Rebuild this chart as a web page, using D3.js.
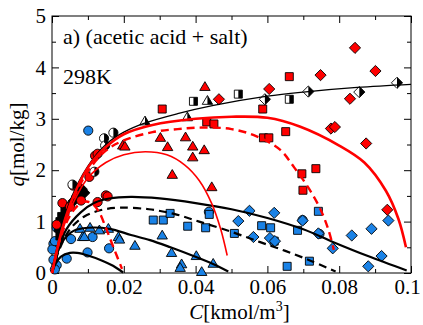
<!DOCTYPE html>
<html>
<head>
<meta charset="utf-8">
<script src="https://cdn.jsdelivr.net/npm/d3@7"></script>
<style>
  body { margin: 0; background: #fff; }
</style>
</head>
<body>
<div id="chart"></div>
<script>
// ---- data: [C kmol/m3, q mol/kg] ----
var redCircles = [[0.0120,2.28],[0.0127,2.32],[0.0104,1.87],[0.0059,1.70],[0.0029,1.36],[0.0081,1.41],
    [0.0127,1.38],[0.0150,1.51],[0.0155,1.49],[0.0013,0.94],[0.0050,1.29]];
var halfCircles = [[0.0171,2.73],[0.0145,2.62],[0.0148,2.48],[0.0118,1.97],[0.0057,1.72]];
var blueCircles = [[0.0101,2.77],[0.0013,0.88],[0.0004,0.57],[0.0001,0.46],[0.0004,0.26],[0.0013,0.15],
    [0.0008,0.07],[0.0041,0.28],[0.0053,0.66],[0.0099,0.40],[0.0113,0.70],[0.0159,0.48],[0.0008,0.62],
    [0.0437,1.19],[0.0698,1.03],[0.0745,0.76]];

var redTriangles = [[0.0426,3.62],[0.0197,2.48],[0.0203,2.46],[0.0302,2.63],[0.0322,2.45],[0.0372,2.64],
    [0.0392,2.46],[0.0424,2.39],[0.0392,2.25],[0.0335,1.91],[0.0445,1.67]];
var halfTriangles = [[0.0259,2.95],[0.0377,3.03],[0.0433,3.35]];
var blueTriangles = [[0.0078,0.86],[0.0085,0.70],[0.0090,0.70],[0.0106,0.88],[0.0132,0.83],[0.0157,0.86],
    [0.0185,0.70],[0.0188,0.65],[0.0231,0.53],[0.0307,0.73],[0.0333,0.39],[0.0361,0.17],[0.0357,0.10],
    [0.0402,0.33],[0.0417,0.02],[0.0449,0.18]];

var redSquares = [[0.0307,3.19],[0.0431,2.94],[0.0451,2.90],[0.0587,3.19],[0.0589,2.63],[0.0604,2.63],
    [0.0661,3.82],[0.0651,2.75],[0.0696,1.93],[0.0735,2.03],[0.0699,1.61]];
var halfSquares = [[0.0394,3.34],[0.0519,3.48],[0.0661,3.38]];
var blueSquares = [[0.0282,1.03],[0.0310,1.03],[0.0329,1.16],[0.0378,0.91],[0.0428,0.88],[0.0438,1.14],
    [0.0508,0.77],[0.0584,0.92],[0.0609,0.88],[0.0619,0.62],[0.0655,0.13],[0.0684,0.83],[0.0717,0.23],
    [0.0742,1.20]];

var redDiamonds = [[0.0844,4.38],[0.0748,3.85],[0.0901,3.93],[0.0830,3.39],[0.0465,3.38],[0.0605,3.58],
    [0.0777,2.81],[0.0788,2.84],[0.0875,2.52],[0.0934,1.23]];
var halfDiamonds = [[0.0593,3.38],[0.0714,3.53],[0.0856,3.52],[0.0961,3.70]];
var blueDiamonds = [[0.0519,1.01],[0.0550,1.21],[0.0561,0.70],[0.0619,1.17],[0.0607,0.68],[0.0621,0.62],
    [0.0698,1.02],[0.0742,0.77],[0.0782,0.48],[0.0835,0.73],[0.0890,0.86],[0.0937,1.02],[0.0918,0.33],
    [0.0881,0.13]];

// dense black points close to the origin
var blackSquares = [[0.0027,1.10],[0.0022,1.00],[0.0036,1.20],[0.0018,0.88],[0.0022,0.72],[0.0045,1.30]];
var blackDiamonds = [[0.0078,1.59],[0.0083,1.63],[0.0069,1.49],[0.0090,1.56],[0.0060,1.40]];

// model curves
var langmuir = [[0,0],[0.001,0.38],[0.002,0.68],[0.005,1.40],[0.01,2.08],[0.015,2.50],[0.02,2.74],
    [0.026,2.92],[0.035,3.10],[0.045,3.26],[0.06,3.44],[0.07,3.52],[0.085,3.61],[0.1,3.67]];
var redSolidBig = [[0,0],[0.003,0.9],[0.006,1.5],[0.01,2.05],[0.015,2.45],[0.02,2.7],[0.028,2.88],
    [0.04,3.0],[0.05,3.04],[0.06,3.02],[0.069,2.85],[0.08,2.48],[0.087,2.15],[0.093,1.6],[0.0965,1.05],[0.0986,0.5]];
var redDashBig = [[0,0],[0.003,0.88],[0.006,1.45],[0.01,1.98],[0.015,2.38],[0.02,2.58],[0.028,2.74],
    [0.035,2.8],[0.042,2.83],[0.05,2.8],[0.057,2.66],[0.0635,2.4],[0.0675,2.05],[0.0715,1.65],[0.0747,1.25],
    [0.077,0.84],[0.0785,0.45]];
var redSolidMid = [[0,0],[0.003,0.85],[0.006,1.38],[0.01,1.85],[0.015,2.15],[0.02,2.3],[0.026,2.36],
    [0.032,2.3],[0.037,2.1],[0.041,1.8],[0.0445,1.35],[0.047,0.85],[0.0488,0.34]];
var redDashSmall = [[0,0],[0.002,0.6],[0.004,0.98],[0.006,1.22],[0.008,1.36],[0.0095,1.39],[0.011,1.36],
    [0.013,1.2],[0.015,0.88],[0.017,0.52],[0.0195,0.08]];
var blackSolidBig = [[0,0],[0.002,0.5],[0.004,0.85],[0.008,1.18],[0.012,1.37],[0.016,1.45],[0.022,1.48],
    [0.03,1.45],[0.04,1.36],[0.05,1.24],[0.06,1.07],[0.07,0.85],[0.0784,0.6],[0.088,0.33],[0.0988,0.05]];
var blackDash = [[0,0],[0.002,0.45],[0.005,0.85],[0.009,1.1],[0.014,1.23],[0.019,1.27],[0.027,1.24],
    [0.034,1.15],[0.041,1.0],[0.05,0.8],[0.058,0.6],[0.065,0.43],[0.072,0.24],[0.079,0.03]];
var blackSolidMid = [[0,0],[0.001,0.3],[0.003,0.62],[0.006,0.82],[0.01,0.88],[0.016,0.86],[0.022,0.74],
    [0.0273,0.64],[0.033,0.5],[0.0394,0.33],[0.045,0.17],[0.0491,0.03]];
var blackSolidSmall = [[0,0],[0.001,0.18],[0.0025,0.32],[0.005,0.39],[0.007,0.39],[0.01,0.34],[0.014,0.24],
    [0.017,0.14],[0.0198,0.01]];

var xTicks = [0, 0.02, 0.04, 0.06, 0.08, 0.1];
var xMinor = [0.01, 0.03, 0.05, 0.07, 0.09];
var yTicks = [0, 1, 2, 3, 4, 5];
var yMinor = [0.5, 1.5, 2.5, 3.5, 4.5];

var RED = "#ff0000", BLUE = "#1a82e6";
var SERIF = "'Liberation Serif', 'Times New Roman', 'DejaVu Serif', serif";

var margin = { top: 16, right: 12, bottom: 52, left: 52 };
var W = 423, H = 325;
var width = W - margin.left - margin.right,
    height = H - margin.top - margin.bottom;

var svg = d3.select("#chart").append("svg")
    .attr("width", W).attr("height", H)
    .style("font-family", SERIF)
    .append("g")
    .attr("transform", "translate(" + margin.left + "," + margin.top + ")");

var x = d3.scaleLinear().domain([0, 0.1]).range([0, width]);
var y = d3.scaleLinear().domain([0, 5]).range([height, 0]);

var fmtX = d => d === 0 ? "0" : String(+d.toFixed(2));

// axes, ticks pointing inward on all four sides
function addAxis(gen, tr, vals, size, fmt) {
    var g = svg.append("g").attr("transform", tr)
        .call(gen.tickValues(vals).tickSizeInner(size).tickSizeOuter(0).tickPadding(6).tickFormat(fmt));
    g.attr("font-family", null).attr("font-size", null);
    g.select(".domain").remove();
    g.selectAll("line").attr("stroke", "#000").attr("stroke-width", 1);
    g.selectAll("text").style("font-size", "21px").style("font-family", SERIF).attr("fill", "#000");
    return g;
}
var none = () => "";
var xAxisG = addAxis(d3.axisBottom(x), "translate(0," + height + ")", xTicks, -7, fmtX);
// last label sits at the window edge, nudge it in a little
xAxisG.selectAll("text").filter(d => d === 0.1).attr("dx", -4);
addAxis(d3.axisBottom(x), "translate(0," + height + ")", xMinor, -4, none);
addAxis(d3.axisTop(x), "translate(0,0)", xTicks, -7, none);
addAxis(d3.axisTop(x), "translate(0,0)", xMinor, -4, none);
addAxis(d3.axisLeft(y), "translate(0,0)", yTicks, -7, d3.format("d"));
addAxis(d3.axisLeft(y), "translate(0,0)", yMinor, -4, none);
addAxis(d3.axisRight(y), "translate(" + width + ",0)", yTicks, -7, none);
addAxis(d3.axisRight(y), "translate(" + width + ",0)", yMinor, -4, none);

svg.append("rect").attr("width", width).attr("height", height)
    .attr("fill", "none").attr("stroke", "#000").attr("stroke-width", 1);

// markers
var plot = svg.append("g");

function shapePath(kind, cx, cy) {
    if (kind === "circle") {
        var r = 4.6;
        return "M" + (cx - r) + "," + cy + "A" + r + "," + r + " 0 1,1 " + (cx + r) + "," + cy +
               "A" + r + "," + r + " 0 1,1 " + (cx - r) + "," + cy + "Z";
    }
    if (kind === "square") {
        var s = 4;
        return "M" + (cx - s) + "," + (cy - s) + "H" + (cx + s) + "V" + (cy + s) + "H" + (cx - s) + "Z";
    }
    if (kind === "diamond") {
        var a = 5.6;
        return "M" + cx + "," + (cy - a) + "L" + (cx + a) + "," + cy + "L" + cx + "," + (cy + a) + "L" + (cx - a) + "," + cy + "Z";
    }
    // triangle
    var w = 5.2, h = 8.8;
    return "M" + cx + "," + (cy - h * 0.6) + "L" + (cx + w) + "," + (cy + h * 0.4) + "L" + (cx - w) + "," + (cy + h * 0.4) + "Z";
}
function halfPath(kind, cx, cy) {
    if (kind === "circle") {
        var r = 4.6;
        return "M" + cx + "," + (cy - r) + "A" + r + "," + r + " 0 0,1 " + cx + "," + (cy + r) + "Z";
    }
    if (kind === "square") {
        var s = 4;
        return "M" + cx + "," + (cy - s) + "H" + (cx + s) + "V" + (cy + s) + "H" + cx + "Z";
    }
    if (kind === "diamond") {
        var a = 5.6;
        return "M" + cx + "," + (cy - a) + "L" + (cx + a) + "," + cy + "L" + cx + "," + (cy + a) + "Z";
    }
    var w = 5.2, h = 8.8;
    return "M" + cx + "," + (cy - h * 0.6) + "L" + (cx + w) + "," + (cy + h * 0.4) + "L" + cx + "," + (cy + h * 0.4) + "Z";
}

function drawMarkers(data, kind, fill, half) {
    var g = plot.append("g");
    g.selectAll("path.m").data(data).enter().append("path")
        .attr("class", "m")
        .attr("d", d => shapePath(kind, x(d[0]), y(d[1])))
        .attr("fill", half ? "#fff" : fill)
        .attr("stroke", "#000").attr("stroke-width", 0.9);
    if (half) {
        g.selectAll("path.h").data(data).enter().append("path")
            .attr("class", "h")
            .attr("d", d => halfPath(kind, x(d[0]), y(d[1])))
            .attr("fill", "#000");
    }
}

drawMarkers(blueCircles, "circle", BLUE);
drawMarkers(blueTriangles, "triangle", BLUE);
drawMarkers(blueSquares, "square", BLUE);
drawMarkers(blueDiamonds, "diamond", BLUE);
drawMarkers(blackSquares, "square", "#000");
drawMarkers(blackDiamonds, "diamond", "#000");
drawMarkers(redCircles, "circle", RED);
drawMarkers(redTriangles, "triangle", RED);
drawMarkers(redSquares, "square", RED);
drawMarkers(redDiamonds, "diamond", RED);
drawMarkers(halfCircles, "circle", "#000", true);
drawMarkers(halfTriangles, "triangle", "#000", true);
drawMarkers(halfSquares, "square", "#000", true);
drawMarkers(halfDiamonds, "diamond", "#000", true);

// curves
var line = d3.line().x(d => x(d[0])).y(d => y(d[1])).curve(d3.curveCatmullRom.alpha(0.5));
function drawCurve(data, color, w, dash) {
    svg.append("path").datum(data)
        .attr("d", line)
        .attr("fill", "none")
        .attr("stroke", color)
        .attr("stroke-width", w)
        .attr("stroke-dasharray", dash || null);
}
drawCurve(langmuir, "#000", 1.3);
drawCurve(blackSolidBig, "#000", 2.2);
drawCurve(blackDash, "#000", 2.2, "8,5");
drawCurve(blackSolidMid, "#000", 2.2);
drawCurve(blackSolidSmall, "#000", 2.2);
drawCurve(redSolidBig, RED, 2.6);
drawCurve(redDashBig, RED, 2.4, "8,5");
drawCurve(redSolidMid, RED, 1.6);
drawCurve(redDashSmall, RED, 2.4, "8,5");

// texts
svg.append("text").attr("x", 11).attr("y", 28)
    .style("font-size", "22px").text("a) (acetic acid + salt)");
svg.append("text").attr("x", 11).attr("y", 68)
    .style("font-size", "22px").text("298K");

var yl = svg.append("text")
    .attr("transform", "translate(" + (-28) + "," + (height / 2) + ") rotate(-90)")
    .attr("text-anchor", "middle").style("font-size", "21px");
yl.append("tspan").attr("font-style", "italic").text("q");
yl.append("tspan").text("[mol/kg]");

var xl = svg.append("text")
    .attr("x", width / 2 + 8).attr("y", height + 46)
    .attr("text-anchor", "middle").style("font-size", "21px");
xl.append("tspan").attr("font-style", "italic").text("C");
xl.append("tspan").text("[kmol/m");
xl.append("tspan").style("font-size", "14px").attr("dy", -8).text("3");
xl.append("tspan").attr("dy", 8).text("]");
</script>
</body>
</html>
